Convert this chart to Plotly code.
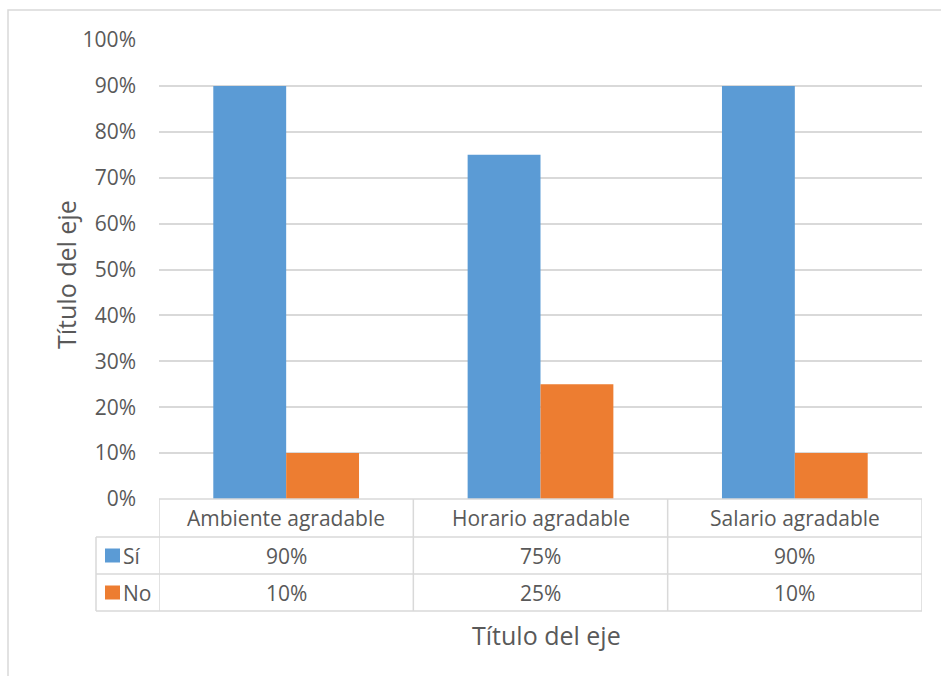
import plotly.graph_objects as go

categories = ["Ambiente agradable", "Horario agradable", "Salario agradable"]
series_names = ["Sí", "No"]
si_values = [0.90, 0.75, 0.90]
no_values = [0.10, 0.25, 0.10]
series_colors = ["#5B9BD5", "#ED7D31"]

W, H = 941, 676
L, R, T, B = 159, 922, 40, 499  # plot area in pixels


def px(x):
    return (x - L) / (R - L)


def py(y):
    return (B - y) / (B - T)


grid = "#D9D9D9"
text_col = "#595959"
font = "Open Sans, Noto Sans, sans-serif"

fig = go.Figure()
for name, vals, color in zip(series_names, [si_values, no_values], series_colors):
    fig.add_trace(go.Bar(x=categories, y=vals, name=name, marker_color=color,
                         marker_line_width=0, hoverinfo="skip"))

row_edges = [499, 537, 574, 611]
shapes = []
# table horizontal lines
shapes.append(dict(type="line", xref="paper", yref="paper", x0=0, x1=1,
                   y0=py(row_edges[0]), y1=py(row_edges[0]), line=dict(color=grid, width=1.5)))
for yy in row_edges[1:]:
    shapes.append(dict(type="line", xref="paper", yref="paper", x0=px(96), x1=1,
                       y0=py(yy), y1=py(yy), line=dict(color=grid, width=1.5)))
# table vertical lines (category boundaries)
for i in range(len(categories) + 1):
    shapes.append(dict(type="line", xref="x", yref="paper", x0=i - 0.5, x1=i - 0.5,
                       y0=py(row_edges[0]), y1=py(row_edges[-1]), line=dict(color=grid, width=1.5)))
shapes.append(dict(type="line", xref="paper", yref="paper", x0=px(96), x1=px(96),
                   y0=py(row_edges[1]), y1=py(row_edges[-1]), line=dict(color=grid, width=1.5)))
# outer chart border
shapes.append(dict(type="rect", xref="paper", yref="paper", x0=px(8), x1=px(960),
                   y0=py(700), y1=py(10), line=dict(color=grid, width=1.5)))

annotations = []
header_c = (row_edges[0] + row_edges[1]) / 2
for cat in categories:
    annotations.append(dict(x=cat, xref="x", y=py(header_c), yref="paper", text=cat,
                            yanchor="middle", showarrow=False,
                            font=dict(family=font, size=21, color=text_col)))
for r, (name, vals, color) in enumerate(zip(series_names, [si_values, no_values], series_colors)):
    yc = (row_edges[r + 1] + row_edges[r + 2]) / 2
    for cat, v in zip(categories, vals):
        annotations.append(dict(x=cat, xref="x", y=py(yc), yref="paper", text=f"{v:.0%}",
                                yanchor="middle", showarrow=False,
                                font=dict(family=font, size=21, color=text_col)))
    shapes.append(dict(type="rect", xref="paper", yref="paper", x0=px(105), x1=px(120),
                       y0=py(yc + 7), y1=py(yc - 7), fillcolor=color, line=dict(width=0)))
    annotations.append(dict(x=px(121), xref="paper", y=py(yc), yref="paper", text=name,
                            xanchor="left", yanchor="middle", showarrow=False,
                            font=dict(family=font, size=21, color=text_col)))

# axis titles
annotations.append(dict(x=px(546), xref="paper", y=py(635), yref="paper", text="Título del eje",
                        xanchor="center", yanchor="middle", showarrow=False,
                        font=dict(family=font, size=25, color=text_col)))
annotations.append(dict(x=px(66), xref="paper", y=py(275), yref="paper", text="Título del eje",
                        textangle=-90, xanchor="center", yanchor="middle", showarrow=False,
                        font=dict(family=font, size=25, color=text_col)))

fig.update_layout(
    width=W, height=H,
    margin=dict(l=L, r=W - R, t=T, b=H - B, pad=0),
    paper_bgcolor="white", plot_bgcolor="white",
    barmode="group", bargap=0.427, bargroupgap=0,
    showlegend=False,
    shapes=shapes, annotations=annotations,
    xaxis=dict(range=[-0.5, 2.5], showticklabels=False, showgrid=False, zeroline=False,
               showline=False, ticks=""),
    yaxis=dict(range=[0, 1], dtick=0.1, tickformat=".0%", showgrid=True, gridcolor=grid,
               gridwidth=1.5, zeroline=False, showline=False, ticks="", ticklabelstandoff=22,
               tickfont=dict(family=font, size=21, color=text_col)),
)

fig.write_html("out.html", config={"displayModeBar": False},
               post_script="document.body.style.margin='0';")
